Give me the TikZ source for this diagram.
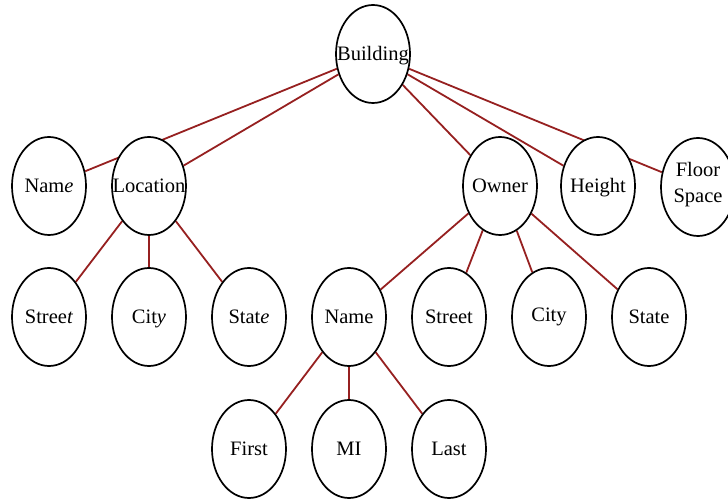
\documentclass[tikz,border=0pt]{standalone}
\usepackage{fontspec}
\setmainfont{Liberation Serif}
\usetikzlibrary{shapes.geometric}
\definecolor{edgered}{RGB}{150,32,32}
\pgfdeclarelayer{background}
\pgfsetlayers{background,main}
\begin{document}
\begin{tikzpicture}[x=1pt,y=-1pt,
  ent/.style={ellipse, draw=black, line width=1.7pt, fill=white,
    minimum width=74pt, minimum height=98pt, inner sep=0pt},
  lbl/.style={font=\fontsize{20.5}{26}\selectfont, align=center, inner sep=0pt, anchor=base},
  link/.style={draw=edgered, line width=1.8pt}]
\useasboundingbox (0,0) rectangle (728,502);
% row 1
\node[ent] (building) at (373,54) {};
\node[lbl] (buildingt) at ([yshift=-6.5pt]building.center) {Building};
% row 2
\node[ent] (name) at (49,186) {};
\node[lbl] (namet) at ([yshift=-6.5pt]name.center) {Nam\textit{e}};
\node[ent] (location) at (149,186) {};
\node[lbl] (locationt) at ([yshift=-6.5pt]location.center) {Location};
\node[ent] (owner) at (500,186) {};
\node[lbl] (ownert) at ([yshift=-6.5pt]owner.center) {Owner};
\node[ent] (height) at (598,186) {};
\node[lbl] (heightt) at ([yshift=-6.5pt]height.center) {Height};
\node[ent] (floor) at (698,187) {};
\node[lbl] (floort) at ([yshift=-16pt]floor.center) {Floor\\Space};
% row 3
\node[ent] (street) at (49,317) {};
\node[lbl] (streett) at ([yshift=-6.5pt]street.center) {Stree\textit{t}};
\node[ent] (city) at (149,317) {};
\node[lbl] (cityt) at ([yshift=-6.5pt]city.center) {Cit\textit{y}};
\node[ent] (state) at (249,317) {};
\node[lbl] (statet) at ([yshift=-6.5pt]state.center) {Stat\textit{e}};
\node[ent] (oname) at (349,317) {};
\node[lbl] (onamet) at ([yshift=-6.5pt]oname.center) {Name};
\node[ent] (ostreet) at (449,317) {};
\node[lbl] (ostreett) at ([yshift=-6.5pt]ostreet.center) {Street};
\node[ent] (ocity) at (549,317) {};
\node[lbl] (ocityt) at ([yshift=-5pt]ocity.center) {City};
\node[ent] (ostate) at (649,317) {};
\node[lbl] (ostatet) at ([yshift=-6.5pt]ostate.center) {State};
% row 4
\node[ent] (first) at (249,449) {};
\node[lbl] (firstt) at ([yshift=-6.5pt]first.center) {First};
\node[ent] (mi) at (349,449) {};
\node[lbl] (mit) at ([yshift=-6.5pt]mi.center) {MI};
\node[ent] (last) at (449,449) {};
\node[lbl] (lastt) at ([yshift=-6.5pt]last.center) {Last};
\begin{pgfonlayer}{background}
\draw[link] (building) -- (name);
\draw[link] (building) -- (location);
\draw[link] (building) -- (owner);
\draw[link] (building) -- (height);
\draw[link] (building) -- (floor);
\draw[link] (location) -- (street);
\draw[link] (location) -- (city);
\draw[link] (location) -- (state);
\draw[link] (owner) -- (oname);
\draw[link] (owner) -- (ostreet);
\draw[link] (owner) -- (ocity);
\draw[link] (owner) -- (ostate);
\draw[link] (oname) -- (first);
\draw[link] (oname) -- (mi);
\draw[link] (oname) -- (last);
\end{pgfonlayer}
\end{tikzpicture}
\end{document}
